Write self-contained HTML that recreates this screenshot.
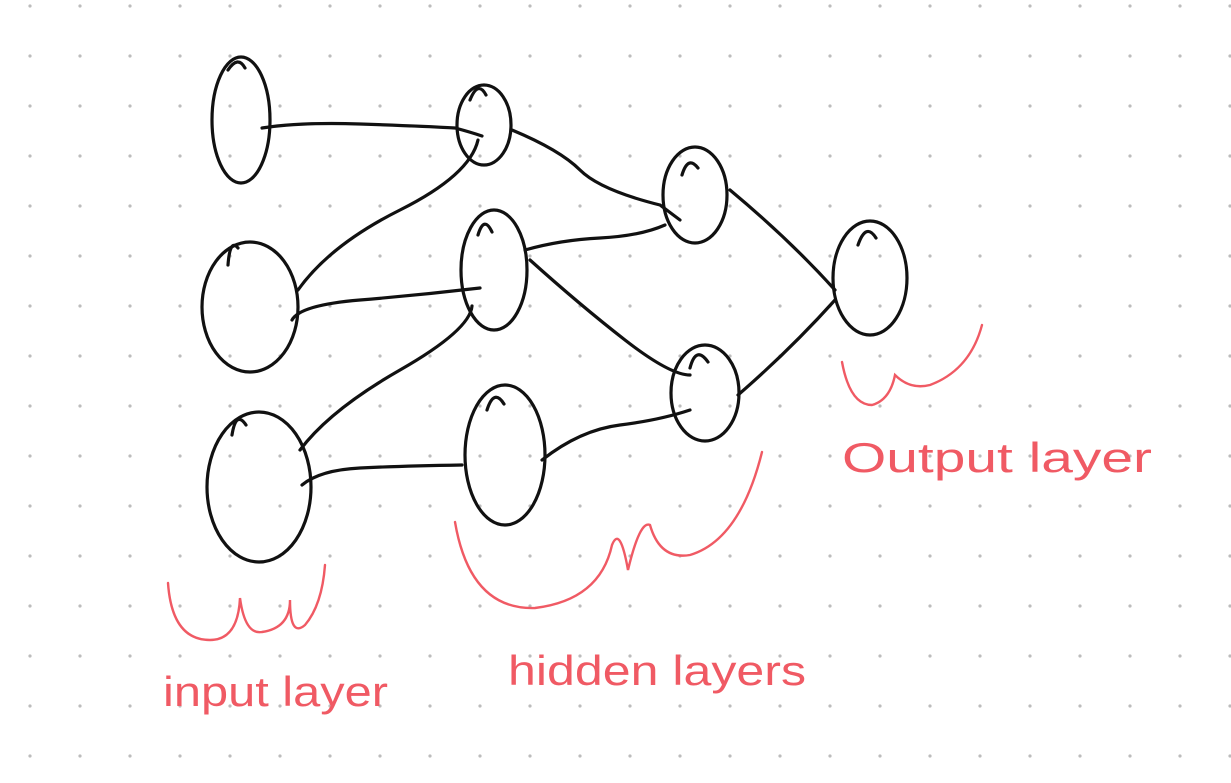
<!DOCTYPE html>
<html><head><style>body{margin:0;background:#fff}svg{display:block}</style></head><body>
<svg width="1231" height="783" viewBox="0 0 1231 783">
<defs><pattern id="d" width="50" height="50" patternUnits="userSpaceOnUse" x="5" y="-19"><circle cx="25" cy="25" r="1.6" fill="#bcbcbc"/></pattern></defs>
<rect width="1231" height="783" fill="url(#d)"/>
<g fill="none" stroke="#111" stroke-width="3.2" stroke-linecap="round">
<ellipse cx="241" cy="120" rx="29" ry="63"/><path d="M228 70 Q238 55 245 68"/>
<ellipse cx="250" cy="307" rx="48" ry="65"/><path d="M228 265 Q230 238 238 248"/>
<ellipse cx="259" cy="487" rx="52" ry="75"/><path d="M232 435 Q236 410 246 425"/>
<ellipse cx="484" cy="125" rx="27" ry="40"/><path d="M470 100 Q478 80 486 95"/>
<ellipse cx="494" cy="270" rx="33" ry="60"/><path d="M478 235 Q484 215 492 232"/>
<ellipse cx="505" cy="455" rx="40" ry="70"/><path d="M487 410 Q494 388 504 404"/>
<ellipse cx="695" cy="195" rx="32" ry="48"/><path d="M682 175 Q688 155 698 168"/>
<ellipse cx="705" cy="393" rx="34" ry="48"/><path d="M690 368 Q696 345 708 362"/>
<ellipse cx="870" cy="278" rx="37" ry="57"/><path d="M858 245 Q866 222 876 238"/>
<path d="M262 128 Q300 122 360 124 T455 128 Q470 132 482 136"/>
<path d="M298 290 Q330 245 400 210 T478 140"/>
<path d="M292 320 Q300 305 360 300 T480 288"/>
<path d="M300 450 Q330 410 400 370 T472 306"/>
<path d="M302 485 Q320 470 360 468 T462 465"/>
<path d="M512 130 Q560 150 580 170 T660 205 L680 220"/>
<path d="M525 250 Q560 240 600 238 T665 225"/>
<path d="M530 260 Q580 305 625 340 T690 375"/>
<path d="M542 460 Q580 430 620 425 T690 410"/>
<path d="M730 190 Q790 240 835 290"/>
<path d="M738 395 Q790 350 835 300"/>
</g>
<g fill="none" stroke="#f05a64" stroke-width="2.4" stroke-linecap="round">
<path d="M168 583 Q172 640 210 640 Q238 640 240 598 Q245 635 262 632 Q290 628 290 600 Q290 638 305 625 Q322 605 325 565"/>
<path d="M455 522 Q470 610 535 608 Q600 600 612 545 Q620 525 628 570 Q640 520 650 525 Q660 560 690 555 Q740 540 762 452"/>
<path d="M842 362 Q850 405 872 405 Q890 400 895 375 Q910 390 930 385 Q970 370 982 325"/>
</g>
<g fill="#f05a64" font-family="Liberation Sans, sans-serif" font-size="42" font-weight="300">
<text x="163" y="706" textLength="225" lengthAdjust="spacingAndGlyphs">input layer</text>
<text x="508" y="685" textLength="298" lengthAdjust="spacingAndGlyphs">hidden layers</text>
<text x="842" y="472" textLength="310" lengthAdjust="spacingAndGlyphs">Output layer</text>
</g>
</svg>
</body></html>
